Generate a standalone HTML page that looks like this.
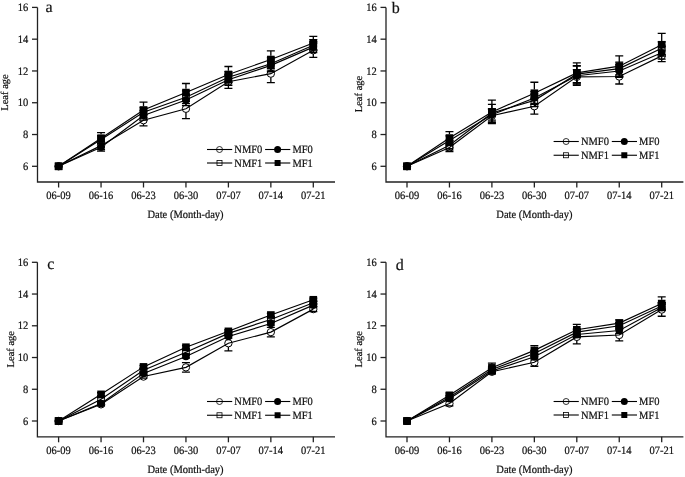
<!DOCTYPE html>
<html><head><meta charset="utf-8"><title>Leaf age</title>
<style>
html,body{margin:0;padding:0;background:#fff;}
body{width:685px;height:477px;overflow:hidden;}
svg{display:block;will-change:transform;font-family:"Liberation Serif", serif;fill:#111;}
text{fill:#111;stroke:#111;stroke-width:0.2px;text-rendering:geometricPrecision;}
</style></head><body>
<svg width="685" height="477" viewBox="0 0 685 477">
<rect width="685" height="477" fill="#fff"/>
<path d="M37.5 7.4V182H335" fill="none" stroke="#222" stroke-width="1.3"/>
<path d="M32 166.3H37.5" stroke="#222" stroke-width="1.3"/>
<text transform="translate(28.3 169.9) scale(1 1.07)" text-anchor="end" font-size="10.5">6</text>
<path d="M32 134.52H37.5" stroke="#222" stroke-width="1.3"/>
<text transform="translate(28.3 138.12) scale(1 1.07)" text-anchor="end" font-size="10.5">8</text>
<path d="M32 102.74H37.5" stroke="#222" stroke-width="1.3"/>
<text transform="translate(28.3 106.34) scale(1 1.07)" text-anchor="end" font-size="10.5">10</text>
<path d="M32 70.96H37.5" stroke="#222" stroke-width="1.3"/>
<text transform="translate(28.3 74.56) scale(1 1.07)" text-anchor="end" font-size="10.5">12</text>
<path d="M32 39.18H37.5" stroke="#222" stroke-width="1.3"/>
<text transform="translate(28.3 42.78) scale(1 1.07)" text-anchor="end" font-size="10.5">14</text>
<path d="M32 7.4H37.5" stroke="#222" stroke-width="1.3"/>
<text transform="translate(28.3 11) scale(1 1.07)" text-anchor="end" font-size="10.5">16</text>
<path d="M58.6 182V187.5" stroke="#222" stroke-width="1.3"/>
<text transform="translate(58.6 199.2) scale(1 1.07)" text-anchor="middle" font-size="10.5">06-09</text>
<path d="M101.05 182V187.5" stroke="#222" stroke-width="1.3"/>
<text transform="translate(101.05 199.2) scale(1 1.07)" text-anchor="middle" font-size="10.5">06-16</text>
<path d="M143.5 182V187.5" stroke="#222" stroke-width="1.3"/>
<text transform="translate(143.5 199.2) scale(1 1.07)" text-anchor="middle" font-size="10.5">06-23</text>
<path d="M185.95 182V187.5" stroke="#222" stroke-width="1.3"/>
<text transform="translate(185.95 199.2) scale(1 1.07)" text-anchor="middle" font-size="10.5">06-30</text>
<path d="M228.4 182V187.5" stroke="#222" stroke-width="1.3"/>
<text transform="translate(228.4 199.2) scale(1 1.07)" text-anchor="middle" font-size="10.5">07-07</text>
<path d="M270.85 182V187.5" stroke="#222" stroke-width="1.3"/>
<text transform="translate(270.85 199.2) scale(1 1.07)" text-anchor="middle" font-size="10.5">07-14</text>
<path d="M313.3 182V187.5" stroke="#222" stroke-width="1.3"/>
<text transform="translate(313.3 199.2) scale(1 1.07)" text-anchor="middle" font-size="10.5">07-21</text>
<text x="45.4" y="12" font-size="16">a</text>
<text transform="translate(8.3 92.5) rotate(-90)" text-anchor="middle" font-size="10.5">Leaf age</text>
<text transform="translate(185.5 218.1) scale(1 1.07)" text-anchor="middle" font-size="10.5">Date (Month-day)</text>
<polyline points="58.6,166.3 101.05,145.64 143.5,120.22 185.95,108.78 228.4,81.77 270.85,73.66 313.3,50.3" fill="none" stroke="#000" stroke-width="1.15"/>
<polyline points="58.6,166.3 101.05,147.23 143.5,115.45 185.95,100.04 228.4,79.7 270.85,65.4 313.3,47.12" fill="none" stroke="#000" stroke-width="1.15"/>
<polyline points="58.6,166.3 101.05,139.6 143.5,112.27 185.95,97.18 228.4,77.32 270.85,63.81 313.3,45.22" fill="none" stroke="#000" stroke-width="1.15"/>
<polyline points="58.6,166.3 101.05,138.17 143.5,110.05 185.95,92.57 228.4,74.46 270.85,59.52 313.3,42.99" fill="none" stroke="#000" stroke-width="1.15"/>
<path d="M101.05 141.67V141.84M101.05 149.44V149.62M97.05 141.67h8M97.05 149.62h8" stroke="#000" stroke-width="1.3" fill="none"/>
<path d="M143.5 114.66V116.42M143.5 124.02V125.78M139.5 114.66h8M139.5 125.78h8" stroke="#000" stroke-width="1.3" fill="none"/>
<path d="M185.95 98.93V104.98M185.95 112.58V118.63M181.95 98.93h8M181.95 118.63h8" stroke="#000" stroke-width="1.3" fill="none"/>
<path d="M228.4 75.09V77.97M228.4 85.57V88.44M224.4 75.09h8M224.4 88.44h8" stroke="#000" stroke-width="1.3" fill="none"/>
<path d="M270.85 64.6V69.86M270.85 77.46V82.72M266.85 64.6h8M266.85 82.72h8" stroke="#000" stroke-width="1.3" fill="none"/>
<path d="M313.3 43.15V46.5M313.3 54.1V57.45M309.3 43.15h8M309.3 57.45h8" stroke="#000" stroke-width="1.3" fill="none"/>
<path d="M101.05 143.26V143.43M101.05 151.03V151.2M97.05 143.26h8M97.05 151.2h8" stroke="#000" stroke-width="1.3" fill="none"/>
<path d="M143.5 110.69V111.65M143.5 119.25V120.22M139.5 110.69h8M139.5 120.22h8" stroke="#000" stroke-width="1.3" fill="none"/>
<path d="M185.95 94.48V96.24M185.95 103.84V105.6M181.95 94.48h8M181.95 105.6h8" stroke="#000" stroke-width="1.3" fill="none"/>
<path d="M228.4 74.14V75.9M228.4 83.5V85.26M224.4 74.14h8M224.4 85.26h8" stroke="#000" stroke-width="1.3" fill="none"/>
<path d="M270.85 59.04V61.6M270.85 69.2V71.75M266.85 59.04h8M266.85 71.75h8" stroke="#000" stroke-width="1.3" fill="none"/>
<path d="M313.3 41.56V43.33M313.3 50.92V52.69M309.3 41.56h8M309.3 52.69h8" stroke="#000" stroke-width="1.3" fill="none"/>
<path d="M101.05 135.63V135.8M101.05 143.4V143.58M97.05 135.63h8M97.05 143.58h8" stroke="#000" stroke-width="1.3" fill="none"/>
<path d="M143.5 107.51V108.47M143.5 116.07V117.04M139.5 107.51h8M139.5 117.04h8" stroke="#000" stroke-width="1.3" fill="none"/>
<path d="M185.95 90.82V93.38M185.95 100.98V103.53M181.95 90.82h8M181.95 103.53h8" stroke="#000" stroke-width="1.3" fill="none"/>
<path d="M228.4 71.75V73.52M228.4 81.12V82.88M224.4 71.75h8M224.4 82.88h8" stroke="#000" stroke-width="1.3" fill="none"/>
<path d="M270.85 57.45V60.01M270.85 67.61V70.17M266.85 57.45h8M266.85 70.17h8" stroke="#000" stroke-width="1.3" fill="none"/>
<path d="M313.3 39.66V41.42M313.3 49.02V50.78M309.3 39.66h8M309.3 50.78h8" stroke="#000" stroke-width="1.3" fill="none"/>
<path d="M101.05 132.61V134.37M101.05 141.97V143.74M97.05 132.61h8M97.05 143.74h8" stroke="#000" stroke-width="1.3" fill="none"/>
<path d="M143.5 102.1V106.25M143.5 113.85V117.99M139.5 102.1h8M139.5 117.99h8" stroke="#000" stroke-width="1.3" fill="none"/>
<path d="M185.95 83.51V88.77M185.95 96.37V101.63M181.95 83.51h8M181.95 101.63h8" stroke="#000" stroke-width="1.3" fill="none"/>
<path d="M228.4 66.51V70.66M228.4 78.26V82.4M224.4 66.51h8M224.4 82.4h8" stroke="#000" stroke-width="1.3" fill="none"/>
<path d="M270.85 50.78V55.72M270.85 63.32V68.26M266.85 50.78h8M266.85 68.26h8" stroke="#000" stroke-width="1.3" fill="none"/>
<path d="M313.3 36.32V39.19M313.3 46.79V49.67M309.3 36.32h8M309.3 49.67h8" stroke="#000" stroke-width="1.3" fill="none"/>
<circle cx="58.6" cy="166.3" r="3.68" fill="none" stroke="#000" stroke-width="1"/>
<circle cx="101.05" cy="145.64" r="3.68" fill="none" stroke="#000" stroke-width="1"/>
<circle cx="143.5" cy="120.22" r="3.68" fill="none" stroke="#000" stroke-width="1"/>
<circle cx="185.95" cy="108.78" r="3.68" fill="none" stroke="#000" stroke-width="1"/>
<circle cx="228.4" cy="81.77" r="3.68" fill="none" stroke="#000" stroke-width="1"/>
<circle cx="270.85" cy="73.66" r="3.68" fill="none" stroke="#000" stroke-width="1"/>
<circle cx="313.3" cy="50.3" r="3.68" fill="none" stroke="#000" stroke-width="1"/>
<circle cx="58.6" cy="166.3" r="3.8" fill="#000"/>
<circle cx="101.05" cy="147.23" r="3.8" fill="#000"/>
<circle cx="143.5" cy="115.45" r="3.8" fill="#000"/>
<circle cx="185.95" cy="100.04" r="3.8" fill="#000"/>
<circle cx="228.4" cy="79.7" r="3.8" fill="#000"/>
<circle cx="270.85" cy="65.4" r="3.8" fill="#000"/>
<circle cx="313.3" cy="47.12" r="3.8" fill="#000"/>
<rect x="55.3" y="163" width="6.6" height="6.6" fill="none" stroke="#000" stroke-width="1"/>
<rect x="97.75" y="136.3" width="6.6" height="6.6" fill="none" stroke="#000" stroke-width="1"/>
<rect x="140.2" y="108.97" width="6.6" height="6.6" fill="none" stroke="#000" stroke-width="1"/>
<rect x="182.65" y="93.88" width="6.6" height="6.6" fill="none" stroke="#000" stroke-width="1"/>
<rect x="225.1" y="74.02" width="6.6" height="6.6" fill="none" stroke="#000" stroke-width="1"/>
<rect x="267.55" y="60.51" width="6.6" height="6.6" fill="none" stroke="#000" stroke-width="1"/>
<rect x="310" y="41.92" width="6.6" height="6.6" fill="none" stroke="#000" stroke-width="1"/>
<rect x="54.8" y="162.5" width="7.6" height="7.6" fill="#000"/>
<rect x="97.25" y="134.37" width="7.6" height="7.6" fill="#000"/>
<rect x="139.7" y="106.25" width="7.6" height="7.6" fill="#000"/>
<rect x="182.15" y="88.77" width="7.6" height="7.6" fill="#000"/>
<rect x="224.6" y="70.66" width="7.6" height="7.6" fill="#000"/>
<rect x="267.05" y="55.72" width="7.6" height="7.6" fill="#000"/>
<rect x="309.5" y="39.19" width="7.6" height="7.6" fill="#000"/>
<path d="M207 149.5H232.2" stroke="#000" stroke-width="1.1"/>
<circle cx="219.5" cy="149.5" r="3.0" fill="none" stroke="#000" stroke-width="0.8"/>
<text transform="translate(234.3 153.4) scale(1 1.07)" font-size="10.5">NMF0</text>
<path d="M265.1 149.5H290.3" stroke="#000" stroke-width="1.1"/>
<circle cx="277.6" cy="149.5" r="3.5" fill="#000"/>
<text transform="translate(292.4 153.4) scale(1 1.07)" font-size="10.5">MF0</text>
<path d="M207 163H232.2" stroke="#000" stroke-width="1.1"/>
<rect x="217" y="160.5" width="5" height="5" fill="none" stroke="#000" stroke-width="0.8"/>
<text transform="translate(234.3 166.9) scale(1 1.07)" font-size="10.5">NMF1</text>
<path d="M265.1 163H290.3" stroke="#000" stroke-width="1.1"/>
<rect x="274.6" y="160" width="6" height="6" fill="#000"/>
<text transform="translate(292.4 166.9) scale(1 1.07)" font-size="10.5">MF1</text>
<path d="M386 7.4V182H683.4" fill="none" stroke="#222" stroke-width="1.3"/>
<path d="M380.5 166.3H386" stroke="#222" stroke-width="1.3"/>
<text transform="translate(376.8 169.9) scale(1 1.07)" text-anchor="end" font-size="10.5">6</text>
<path d="M380.5 134.52H386" stroke="#222" stroke-width="1.3"/>
<text transform="translate(376.8 138.12) scale(1 1.07)" text-anchor="end" font-size="10.5">8</text>
<path d="M380.5 102.74H386" stroke="#222" stroke-width="1.3"/>
<text transform="translate(376.8 106.34) scale(1 1.07)" text-anchor="end" font-size="10.5">10</text>
<path d="M380.5 70.96H386" stroke="#222" stroke-width="1.3"/>
<text transform="translate(376.8 74.56) scale(1 1.07)" text-anchor="end" font-size="10.5">12</text>
<path d="M380.5 39.18H386" stroke="#222" stroke-width="1.3"/>
<text transform="translate(376.8 42.78) scale(1 1.07)" text-anchor="end" font-size="10.5">14</text>
<path d="M380.5 7.4H386" stroke="#222" stroke-width="1.3"/>
<text transform="translate(376.8 11) scale(1 1.07)" text-anchor="end" font-size="10.5">16</text>
<path d="M407 182V187.5" stroke="#222" stroke-width="1.3"/>
<text transform="translate(407 199.2) scale(1 1.07)" text-anchor="middle" font-size="10.5">06-09</text>
<path d="M449.45 182V187.5" stroke="#222" stroke-width="1.3"/>
<text transform="translate(449.45 199.2) scale(1 1.07)" text-anchor="middle" font-size="10.5">06-16</text>
<path d="M491.9 182V187.5" stroke="#222" stroke-width="1.3"/>
<text transform="translate(491.9 199.2) scale(1 1.07)" text-anchor="middle" font-size="10.5">06-23</text>
<path d="M534.35 182V187.5" stroke="#222" stroke-width="1.3"/>
<text transform="translate(534.35 199.2) scale(1 1.07)" text-anchor="middle" font-size="10.5">06-30</text>
<path d="M576.8 182V187.5" stroke="#222" stroke-width="1.3"/>
<text transform="translate(576.8 199.2) scale(1 1.07)" text-anchor="middle" font-size="10.5">07-07</text>
<path d="M619.25 182V187.5" stroke="#222" stroke-width="1.3"/>
<text transform="translate(619.25 199.2) scale(1 1.07)" text-anchor="middle" font-size="10.5">07-14</text>
<path d="M661.7 182V187.5" stroke="#222" stroke-width="1.3"/>
<text transform="translate(661.7 199.2) scale(1 1.07)" text-anchor="middle" font-size="10.5">07-21</text>
<text x="391.8" y="12.5" font-size="16">b</text>
<text transform="translate(362.1 94) rotate(-90)" text-anchor="middle" font-size="10.5">Leaf age</text>
<text transform="translate(534.4 218.3) scale(1 1.07)" text-anchor="middle" font-size="10.5">Date (Month-day)</text>
<polyline points="407,166.3 449.45,147.55 491.9,115.77 534.35,106.24 576.8,76.84 619.25,76.52 661.7,55.86" fill="none" stroke="#000" stroke-width="1.15"/>
<polyline points="407,166.3 449.45,140.56 491.9,114.66 534.35,97.97 576.8,75.73 619.25,70.96 661.7,52.69" fill="none" stroke="#000" stroke-width="1.15"/>
<polyline points="407,166.3 449.45,145.17 491.9,113.07 534.35,100.36 576.8,74.14 619.25,68.58 661.7,48.24" fill="none" stroke="#000" stroke-width="1.15"/>
<polyline points="407,166.3 449.45,138.02 491.9,111.96 534.35,93.21 576.8,72.87 619.25,66.19 661.7,44.74" fill="none" stroke="#000" stroke-width="1.15"/>
<path d="M449.45 143.58V143.75M449.45 151.35V151.52M445.45 143.58h8M445.45 151.52h8" stroke="#000" stroke-width="1.3" fill="none"/>
<path d="M491.9 108.94V111.97M491.9 119.57V122.6M487.9 108.94h8M487.9 122.6h8" stroke="#000" stroke-width="1.3" fill="none"/>
<path d="M534.35 98.29V102.44M534.35 110.04V114.18M530.35 98.29h8M530.35 114.18h8" stroke="#000" stroke-width="1.3" fill="none"/>
<path d="M576.8 69.69V73.04M576.8 80.64V83.99M572.8 69.69h8M572.8 83.99h8" stroke="#000" stroke-width="1.3" fill="none"/>
<path d="M619.25 69.05V72.72M619.25 80.32V83.99M615.25 69.05h8M615.25 83.99h8" stroke="#000" stroke-width="1.3" fill="none"/>
<path d="M661.7 50.14V52.06M661.7 59.66V61.58M657.7 50.14h8M657.7 61.58h8" stroke="#000" stroke-width="1.3" fill="none"/>
<path d="M449.45 135.79V136.76M449.45 144.36V145.33M445.45 135.79h8M445.45 145.33h8" stroke="#000" stroke-width="1.3" fill="none"/>
<path d="M491.9 109.1V110.86M491.9 118.46V120.22M487.9 109.1h8M487.9 120.22h8" stroke="#000" stroke-width="1.3" fill="none"/>
<path d="M534.35 91.62V94.17M534.35 101.77V104.33M530.35 91.62h8M530.35 104.33h8" stroke="#000" stroke-width="1.3" fill="none"/>
<path d="M576.8 66.19V71.93M576.8 79.53V85.26M572.8 66.19h8M572.8 85.26h8" stroke="#000" stroke-width="1.3" fill="none"/>
<path d="M619.25 64.6V67.16M619.25 74.76V77.32M615.25 64.6h8M615.25 77.32h8" stroke="#000" stroke-width="1.3" fill="none"/>
<path d="M661.7 46.33V48.89M661.7 56.49V59.04M657.7 46.33h8M657.7 59.04h8" stroke="#000" stroke-width="1.3" fill="none"/>
<path d="M449.45 140.4V141.37M449.45 148.97V149.93M445.45 140.4h8M445.45 149.93h8" stroke="#000" stroke-width="1.3" fill="none"/>
<path d="M491.9 104.33V109.27M491.9 116.87V121.81M487.9 104.33h8M487.9 121.81h8" stroke="#000" stroke-width="1.3" fill="none"/>
<path d="M534.35 94V96.56M534.35 104.16V106.71M530.35 94h8M530.35 106.71h8" stroke="#000" stroke-width="1.3" fill="none"/>
<path d="M576.8 65.72V70.34M576.8 77.94V82.56M572.8 65.72h8M572.8 82.56h8" stroke="#000" stroke-width="1.3" fill="none"/>
<path d="M619.25 62.22V64.78M619.25 72.38V74.93M615.25 62.22h8M615.25 74.93h8" stroke="#000" stroke-width="1.3" fill="none"/>
<path d="M661.7 41.88V44.44M661.7 52.04V54.59M657.7 41.88h8M657.7 54.59h8" stroke="#000" stroke-width="1.3" fill="none"/>
<path d="M449.45 131.66V134.22M449.45 141.82V144.37M445.45 131.66h8M445.45 144.37h8" stroke="#000" stroke-width="1.3" fill="none"/>
<path d="M491.9 100.2V108.16M491.9 115.76V123.71M487.9 100.2h8M487.9 123.71h8" stroke="#000" stroke-width="1.3" fill="none"/>
<path d="M534.35 82.24V89.41M534.35 97.01V104.17M530.35 82.24h8M530.35 104.17h8" stroke="#000" stroke-width="1.3" fill="none"/>
<path d="M576.8 62.86V69.07M576.8 76.67V82.88M572.8 62.86h8M572.8 82.88h8" stroke="#000" stroke-width="1.3" fill="none"/>
<path d="M619.25 55.86V62.39M619.25 69.99V76.52M615.25 55.86h8M615.25 76.52h8" stroke="#000" stroke-width="1.3" fill="none"/>
<path d="M661.7 33.3V40.94M661.7 48.54V56.18M657.7 33.3h8M657.7 56.18h8" stroke="#000" stroke-width="1.3" fill="none"/>
<circle cx="407" cy="166.3" r="3.68" fill="none" stroke="#000" stroke-width="1"/>
<circle cx="449.45" cy="147.55" r="3.68" fill="none" stroke="#000" stroke-width="1"/>
<circle cx="491.9" cy="115.77" r="3.68" fill="none" stroke="#000" stroke-width="1"/>
<circle cx="534.35" cy="106.24" r="3.68" fill="none" stroke="#000" stroke-width="1"/>
<circle cx="576.8" cy="76.84" r="3.68" fill="none" stroke="#000" stroke-width="1"/>
<circle cx="619.25" cy="76.52" r="3.68" fill="none" stroke="#000" stroke-width="1"/>
<circle cx="661.7" cy="55.86" r="3.68" fill="none" stroke="#000" stroke-width="1"/>
<circle cx="407" cy="166.3" r="3.8" fill="#000"/>
<circle cx="449.45" cy="140.56" r="3.8" fill="#000"/>
<circle cx="491.9" cy="114.66" r="3.8" fill="#000"/>
<circle cx="534.35" cy="97.97" r="3.8" fill="#000"/>
<circle cx="576.8" cy="75.73" r="3.8" fill="#000"/>
<circle cx="619.25" cy="70.96" r="3.8" fill="#000"/>
<circle cx="661.7" cy="52.69" r="3.8" fill="#000"/>
<rect x="403.7" y="163" width="6.6" height="6.6" fill="none" stroke="#000" stroke-width="1"/>
<rect x="446.15" y="141.87" width="6.6" height="6.6" fill="none" stroke="#000" stroke-width="1"/>
<rect x="488.6" y="109.77" width="6.6" height="6.6" fill="none" stroke="#000" stroke-width="1"/>
<rect x="531.05" y="97.06" width="6.6" height="6.6" fill="none" stroke="#000" stroke-width="1"/>
<rect x="573.5" y="70.84" width="6.6" height="6.6" fill="none" stroke="#000" stroke-width="1"/>
<rect x="615.95" y="65.28" width="6.6" height="6.6" fill="none" stroke="#000" stroke-width="1"/>
<rect x="658.4" y="44.94" width="6.6" height="6.6" fill="none" stroke="#000" stroke-width="1"/>
<rect x="403.2" y="162.5" width="7.6" height="7.6" fill="#000"/>
<rect x="445.65" y="134.22" width="7.6" height="7.6" fill="#000"/>
<rect x="488.1" y="108.16" width="7.6" height="7.6" fill="#000"/>
<rect x="530.55" y="89.41" width="7.6" height="7.6" fill="#000"/>
<rect x="573" y="69.07" width="7.6" height="7.6" fill="#000"/>
<rect x="615.45" y="62.39" width="7.6" height="7.6" fill="#000"/>
<rect x="657.9" y="40.94" width="7.6" height="7.6" fill="#000"/>
<path d="M553.6 141.5H578.8" stroke="#000" stroke-width="1.1"/>
<circle cx="566.1" cy="141.5" r="3.0" fill="none" stroke="#000" stroke-width="0.8"/>
<text transform="translate(580.9 145.4) scale(1 1.07)" font-size="10.5">NMF0</text>
<path d="M611.8 141.5H637" stroke="#000" stroke-width="1.1"/>
<circle cx="624.3" cy="141.5" r="3.5" fill="#000"/>
<text transform="translate(639.1 145.4) scale(1 1.07)" font-size="10.5">MF0</text>
<path d="M553.6 155.25H578.8" stroke="#000" stroke-width="1.1"/>
<rect x="563.6" y="152.75" width="5" height="5" fill="none" stroke="#000" stroke-width="0.8"/>
<text transform="translate(580.9 159.15) scale(1 1.07)" font-size="10.5">NMF1</text>
<path d="M611.8 155.25H637" stroke="#000" stroke-width="1.1"/>
<rect x="621.3" y="152.25" width="6" height="6" fill="#000"/>
<text transform="translate(639.1 159.15) scale(1 1.07)" font-size="10.5">MF1</text>
<path d="M37.4 262.3V436.8H335" fill="none" stroke="#222" stroke-width="1.3"/>
<path d="M31.9 421H37.4" stroke="#222" stroke-width="1.3"/>
<text transform="translate(28.2 424.6) scale(1 1.07)" text-anchor="end" font-size="10.5">6</text>
<path d="M31.9 389.26H37.4" stroke="#222" stroke-width="1.3"/>
<text transform="translate(28.2 392.86) scale(1 1.07)" text-anchor="end" font-size="10.5">8</text>
<path d="M31.9 357.52H37.4" stroke="#222" stroke-width="1.3"/>
<text transform="translate(28.2 361.12) scale(1 1.07)" text-anchor="end" font-size="10.5">10</text>
<path d="M31.9 325.78H37.4" stroke="#222" stroke-width="1.3"/>
<text transform="translate(28.2 329.38) scale(1 1.07)" text-anchor="end" font-size="10.5">12</text>
<path d="M31.9 294.04H37.4" stroke="#222" stroke-width="1.3"/>
<text transform="translate(28.2 297.64) scale(1 1.07)" text-anchor="end" font-size="10.5">14</text>
<path d="M31.9 262.3H37.4" stroke="#222" stroke-width="1.3"/>
<text transform="translate(28.2 265.9) scale(1 1.07)" text-anchor="end" font-size="10.5">16</text>
<path d="M58.6 436.8V442.3" stroke="#222" stroke-width="1.3"/>
<text transform="translate(58.6 454.4) scale(1 1.07)" text-anchor="middle" font-size="10.5">06-09</text>
<path d="M101.05 436.8V442.3" stroke="#222" stroke-width="1.3"/>
<text transform="translate(101.05 454.4) scale(1 1.07)" text-anchor="middle" font-size="10.5">06-16</text>
<path d="M143.5 436.8V442.3" stroke="#222" stroke-width="1.3"/>
<text transform="translate(143.5 454.4) scale(1 1.07)" text-anchor="middle" font-size="10.5">06-23</text>
<path d="M185.95 436.8V442.3" stroke="#222" stroke-width="1.3"/>
<text transform="translate(185.95 454.4) scale(1 1.07)" text-anchor="middle" font-size="10.5">06-30</text>
<path d="M228.4 436.8V442.3" stroke="#222" stroke-width="1.3"/>
<text transform="translate(228.4 454.4) scale(1 1.07)" text-anchor="middle" font-size="10.5">07-07</text>
<path d="M270.85 436.8V442.3" stroke="#222" stroke-width="1.3"/>
<text transform="translate(270.85 454.4) scale(1 1.07)" text-anchor="middle" font-size="10.5">07-14</text>
<path d="M313.3 436.8V442.3" stroke="#222" stroke-width="1.3"/>
<text transform="translate(313.3 454.4) scale(1 1.07)" text-anchor="middle" font-size="10.5">07-21</text>
<text x="47.2" y="268.6" font-size="16">c</text>
<text transform="translate(13.6 349.2) rotate(-90)" text-anchor="middle" font-size="10.5">Leaf age</text>
<text transform="translate(185.5 472.8) scale(1 1.07)" text-anchor="middle" font-size="10.5">Date (Month-day)</text>
<polyline points="58.6,421 101.05,404.34 143.5,376.56 185.95,367.36 228.4,343.24 270.85,332.13 313.3,309.12" fill="none" stroke="#000" stroke-width="1.15"/>
<polyline points="58.6,421 101.05,403.54 143.5,373.39 185.95,356.41 228.4,336.57 270.85,323.56 313.3,305.15" fill="none" stroke="#000" stroke-width="1.15"/>
<polyline points="58.6,421 101.05,399.26 143.5,370.22 185.95,352.28 228.4,333.4 270.85,319.43 313.3,302.77" fill="none" stroke="#000" stroke-width="1.15"/>
<polyline points="58.6,421 101.05,394.34 143.5,366.88 185.95,347.2 228.4,331.33 270.85,314.99 313.3,299.75" fill="none" stroke="#000" stroke-width="1.15"/>
<path d="M97.05 402.75h8M97.05 405.92h8" stroke="#000" stroke-width="1.3" fill="none"/>
<path d="M139.5 374.98h8M139.5 378.15h8" stroke="#000" stroke-width="1.3" fill="none"/>
<path d="M185.95 362.6V363.56M185.95 371.16V372.12M181.95 362.6h8M181.95 372.12h8" stroke="#000" stroke-width="1.3" fill="none"/>
<path d="M228.4 335.62V339.44M228.4 347.04V350.85M224.4 335.62h8M224.4 350.85h8" stroke="#000" stroke-width="1.3" fill="none"/>
<path d="M270.85 327.37V328.33M270.85 335.93V336.89M266.85 327.37h8M266.85 336.89h8" stroke="#000" stroke-width="1.3" fill="none"/>
<path d="M309.3 306.74h8M309.3 311.5h8" stroke="#000" stroke-width="1.3" fill="none"/>
<path d="M97.05 401.96h8M97.05 405.13h8" stroke="#000" stroke-width="1.3" fill="none"/>
<path d="M139.5 371.8h8M139.5 374.98h8" stroke="#000" stroke-width="1.3" fill="none"/>
<path d="M181.95 354.82h8M181.95 358h8" stroke="#000" stroke-width="1.3" fill="none"/>
<path d="M224.4 334.98h8M224.4 338.16h8" stroke="#000" stroke-width="1.3" fill="none"/>
<path d="M266.85 321.97h8M266.85 325.15h8" stroke="#000" stroke-width="1.3" fill="none"/>
<path d="M309.3 303.56h8M309.3 306.74h8" stroke="#000" stroke-width="1.3" fill="none"/>
<path d="M97.05 397.67h8M97.05 400.85h8" stroke="#000" stroke-width="1.3" fill="none"/>
<path d="M139.5 368.63h8M139.5 371.8h8" stroke="#000" stroke-width="1.3" fill="none"/>
<path d="M181.95 350.7h8M181.95 353.87h8" stroke="#000" stroke-width="1.3" fill="none"/>
<path d="M224.4 331.81h8M224.4 334.98h8" stroke="#000" stroke-width="1.3" fill="none"/>
<path d="M266.85 317.85h8M266.85 321.02h8" stroke="#000" stroke-width="1.3" fill="none"/>
<path d="M309.3 301.18h8M309.3 304.36h8" stroke="#000" stroke-width="1.3" fill="none"/>
<path d="M97.05 392.75h8M97.05 395.93h8" stroke="#000" stroke-width="1.3" fill="none"/>
<path d="M139.5 365.3h8M139.5 368.47h8" stroke="#000" stroke-width="1.3" fill="none"/>
<path d="M181.95 345.62h8M181.95 348.79h8" stroke="#000" stroke-width="1.3" fill="none"/>
<path d="M224.4 329.75h8M224.4 332.92h8" stroke="#000" stroke-width="1.3" fill="none"/>
<path d="M266.85 313.4h8M266.85 316.58h8" stroke="#000" stroke-width="1.3" fill="none"/>
<path d="M309.3 298.17h8M309.3 301.34h8" stroke="#000" stroke-width="1.3" fill="none"/>
<circle cx="58.6" cy="421" r="3.68" fill="none" stroke="#000" stroke-width="1"/>
<circle cx="101.05" cy="404.34" r="3.68" fill="none" stroke="#000" stroke-width="1"/>
<circle cx="143.5" cy="376.56" r="3.68" fill="none" stroke="#000" stroke-width="1"/>
<circle cx="185.95" cy="367.36" r="3.68" fill="none" stroke="#000" stroke-width="1"/>
<circle cx="228.4" cy="343.24" r="3.68" fill="none" stroke="#000" stroke-width="1"/>
<circle cx="270.85" cy="332.13" r="3.68" fill="none" stroke="#000" stroke-width="1"/>
<circle cx="313.3" cy="309.12" r="3.68" fill="none" stroke="#000" stroke-width="1"/>
<circle cx="58.6" cy="421" r="3.8" fill="#000"/>
<circle cx="101.05" cy="403.54" r="3.8" fill="#000"/>
<circle cx="143.5" cy="373.39" r="3.8" fill="#000"/>
<circle cx="185.95" cy="356.41" r="3.8" fill="#000"/>
<circle cx="228.4" cy="336.57" r="3.8" fill="#000"/>
<circle cx="270.85" cy="323.56" r="3.8" fill="#000"/>
<circle cx="313.3" cy="305.15" r="3.8" fill="#000"/>
<rect x="55.3" y="417.7" width="6.6" height="6.6" fill="none" stroke="#000" stroke-width="1"/>
<rect x="97.75" y="395.96" width="6.6" height="6.6" fill="none" stroke="#000" stroke-width="1"/>
<rect x="140.2" y="366.92" width="6.6" height="6.6" fill="none" stroke="#000" stroke-width="1"/>
<rect x="182.65" y="348.98" width="6.6" height="6.6" fill="none" stroke="#000" stroke-width="1"/>
<rect x="225.1" y="330.1" width="6.6" height="6.6" fill="none" stroke="#000" stroke-width="1"/>
<rect x="267.55" y="316.13" width="6.6" height="6.6" fill="none" stroke="#000" stroke-width="1"/>
<rect x="310" y="299.47" width="6.6" height="6.6" fill="none" stroke="#000" stroke-width="1"/>
<rect x="54.8" y="417.2" width="7.6" height="7.6" fill="#000"/>
<rect x="97.25" y="390.54" width="7.6" height="7.6" fill="#000"/>
<rect x="139.7" y="363.08" width="7.6" height="7.6" fill="#000"/>
<rect x="182.15" y="343.4" width="7.6" height="7.6" fill="#000"/>
<rect x="224.6" y="327.53" width="7.6" height="7.6" fill="#000"/>
<rect x="267.05" y="311.19" width="7.6" height="7.6" fill="#000"/>
<rect x="309.5" y="295.95" width="7.6" height="7.6" fill="#000"/>
<path d="M207 401.5H232.2" stroke="#000" stroke-width="1.1"/>
<circle cx="219.5" cy="401.5" r="3.0" fill="none" stroke="#000" stroke-width="0.8"/>
<text transform="translate(234.3 405.4) scale(1 1.07)" font-size="10.5">NMF0</text>
<path d="M265.1 401.5H290.3" stroke="#000" stroke-width="1.1"/>
<circle cx="277.6" cy="401.5" r="3.5" fill="#000"/>
<text transform="translate(292.4 405.4) scale(1 1.07)" font-size="10.5">MF0</text>
<path d="M207 415.25H232.2" stroke="#000" stroke-width="1.1"/>
<rect x="217" y="412.75" width="5" height="5" fill="none" stroke="#000" stroke-width="0.8"/>
<text transform="translate(234.3 419.15) scale(1 1.07)" font-size="10.5">NMF1</text>
<path d="M265.1 415.25H290.3" stroke="#000" stroke-width="1.1"/>
<rect x="274.6" y="412.25" width="6" height="6" fill="#000"/>
<text transform="translate(292.4 419.15) scale(1 1.07)" font-size="10.5">MF1</text>
<path d="M386 262.3V436.8H683.4" fill="none" stroke="#222" stroke-width="1.3"/>
<path d="M380.5 421H386" stroke="#222" stroke-width="1.3"/>
<text transform="translate(376.8 424.6) scale(1 1.07)" text-anchor="end" font-size="10.5">6</text>
<path d="M380.5 389.26H386" stroke="#222" stroke-width="1.3"/>
<text transform="translate(376.8 392.86) scale(1 1.07)" text-anchor="end" font-size="10.5">8</text>
<path d="M380.5 357.52H386" stroke="#222" stroke-width="1.3"/>
<text transform="translate(376.8 361.12) scale(1 1.07)" text-anchor="end" font-size="10.5">10</text>
<path d="M380.5 325.78H386" stroke="#222" stroke-width="1.3"/>
<text transform="translate(376.8 329.38) scale(1 1.07)" text-anchor="end" font-size="10.5">12</text>
<path d="M380.5 294.04H386" stroke="#222" stroke-width="1.3"/>
<text transform="translate(376.8 297.64) scale(1 1.07)" text-anchor="end" font-size="10.5">14</text>
<path d="M380.5 262.3H386" stroke="#222" stroke-width="1.3"/>
<text transform="translate(376.8 265.9) scale(1 1.07)" text-anchor="end" font-size="10.5">16</text>
<path d="M407 436.8V442.3" stroke="#222" stroke-width="1.3"/>
<text transform="translate(407 454.4) scale(1 1.07)" text-anchor="middle" font-size="10.5">06-09</text>
<path d="M449.45 436.8V442.3" stroke="#222" stroke-width="1.3"/>
<text transform="translate(449.45 454.4) scale(1 1.07)" text-anchor="middle" font-size="10.5">06-16</text>
<path d="M491.9 436.8V442.3" stroke="#222" stroke-width="1.3"/>
<text transform="translate(491.9 454.4) scale(1 1.07)" text-anchor="middle" font-size="10.5">06-23</text>
<path d="M534.35 436.8V442.3" stroke="#222" stroke-width="1.3"/>
<text transform="translate(534.35 454.4) scale(1 1.07)" text-anchor="middle" font-size="10.5">06-30</text>
<path d="M576.8 436.8V442.3" stroke="#222" stroke-width="1.3"/>
<text transform="translate(576.8 454.4) scale(1 1.07)" text-anchor="middle" font-size="10.5">07-07</text>
<path d="M619.25 436.8V442.3" stroke="#222" stroke-width="1.3"/>
<text transform="translate(619.25 454.4) scale(1 1.07)" text-anchor="middle" font-size="10.5">07-14</text>
<path d="M661.7 436.8V442.3" stroke="#222" stroke-width="1.3"/>
<text transform="translate(661.7 454.4) scale(1 1.07)" text-anchor="middle" font-size="10.5">07-21</text>
<text x="395.8" y="269.5" font-size="16">d</text>
<text transform="translate(361.6 349.2) rotate(-90)" text-anchor="middle" font-size="10.5">Leaf age</text>
<text transform="translate(534.4 472.8) scale(1 1.07)" text-anchor="middle" font-size="10.5">Date (Month-day)</text>
<polyline points="407,421 449.45,403.54 491.9,371.8 534.35,362.28 576.8,336.89 619.25,334.98 661.7,309.59" fill="none" stroke="#000" stroke-width="1.15"/>
<polyline points="407,421 449.45,398.78 491.9,371.01 534.35,356.73 576.8,334.51 619.25,330.54 661.7,307.53" fill="none" stroke="#000" stroke-width="1.15"/>
<polyline points="407,421 449.45,397.19 491.9,369.42 534.35,353.55 576.8,332.13 619.25,325.78 661.7,305.94" fill="none" stroke="#000" stroke-width="1.15"/>
<polyline points="407,421 449.45,395.29 491.9,367.84 534.35,350.38 576.8,329.75 619.25,323.08 661.7,303.56" fill="none" stroke="#000" stroke-width="1.15"/>
<path d="M445.45 401.16h8M445.45 405.92h8" stroke="#000" stroke-width="1.3" fill="none"/>
<path d="M487.9 369.42h8M487.9 374.18h8" stroke="#000" stroke-width="1.3" fill="none"/>
<path d="M534.35 358.31V358.48M534.35 366.08V366.25M530.35 358.31h8M530.35 366.25h8" stroke="#000" stroke-width="1.3" fill="none"/>
<path d="M576.8 329.91V333.09M576.8 340.69V343.87M572.8 329.91h8M572.8 343.87h8" stroke="#000" stroke-width="1.3" fill="none"/>
<path d="M619.25 329.11V331.18M619.25 338.78V340.86M615.25 329.11h8M615.25 340.86h8" stroke="#000" stroke-width="1.3" fill="none"/>
<path d="M661.7 302.93V305.79M661.7 313.39V316.26M657.7 302.93h8M657.7 316.26h8" stroke="#000" stroke-width="1.3" fill="none"/>
<path d="M445.45 397.19h8M445.45 400.37h8" stroke="#000" stroke-width="1.3" fill="none"/>
<path d="M487.9 368.63h8M487.9 373.39h8" stroke="#000" stroke-width="1.3" fill="none"/>
<path d="M530.35 353.55h8M530.35 359.9h8" stroke="#000" stroke-width="1.3" fill="none"/>
<path d="M572.8 331.33h8M572.8 337.68h8" stroke="#000" stroke-width="1.3" fill="none"/>
<path d="M615.25 327.37h8M615.25 333.72h8" stroke="#000" stroke-width="1.3" fill="none"/>
<path d="M657.7 304.36h8M657.7 310.7h8" stroke="#000" stroke-width="1.3" fill="none"/>
<path d="M445.45 395.61h8M445.45 398.78h8" stroke="#000" stroke-width="1.3" fill="none"/>
<path d="M487.9 367.04h8M487.9 371.8h8" stroke="#000" stroke-width="1.3" fill="none"/>
<path d="M530.35 350.38h8M530.35 356.73h8" stroke="#000" stroke-width="1.3" fill="none"/>
<path d="M572.8 328.95h8M572.8 335.3h8" stroke="#000" stroke-width="1.3" fill="none"/>
<path d="M615.25 322.61h8M615.25 328.95h8" stroke="#000" stroke-width="1.3" fill="none"/>
<path d="M657.7 302.77h8M657.7 309.12h8" stroke="#000" stroke-width="1.3" fill="none"/>
<path d="M445.45 392.91h8M445.45 397.67h8" stroke="#000" stroke-width="1.3" fill="none"/>
<path d="M491.9 363.07V364.04M491.9 371.64V372.6M487.9 363.07h8M487.9 372.6h8" stroke="#000" stroke-width="1.3" fill="none"/>
<path d="M534.35 345.62V346.58M534.35 354.18V355.14M530.35 345.62h8M530.35 355.14h8" stroke="#000" stroke-width="1.3" fill="none"/>
<path d="M576.8 324.35V325.95M576.8 333.55V335.14M572.8 324.35h8M572.8 335.14h8" stroke="#000" stroke-width="1.3" fill="none"/>
<path d="M615.25 319.91h8M615.25 326.26h8" stroke="#000" stroke-width="1.3" fill="none"/>
<path d="M661.7 296.9V299.76M661.7 307.36V310.23M657.7 296.9h8M657.7 310.23h8" stroke="#000" stroke-width="1.3" fill="none"/>
<circle cx="407" cy="421" r="3.68" fill="none" stroke="#000" stroke-width="1"/>
<circle cx="449.45" cy="403.54" r="3.68" fill="none" stroke="#000" stroke-width="1"/>
<circle cx="491.9" cy="371.8" r="3.68" fill="none" stroke="#000" stroke-width="1"/>
<circle cx="534.35" cy="362.28" r="3.68" fill="none" stroke="#000" stroke-width="1"/>
<circle cx="576.8" cy="336.89" r="3.68" fill="none" stroke="#000" stroke-width="1"/>
<circle cx="619.25" cy="334.98" r="3.68" fill="none" stroke="#000" stroke-width="1"/>
<circle cx="661.7" cy="309.59" r="3.68" fill="none" stroke="#000" stroke-width="1"/>
<circle cx="407" cy="421" r="3.8" fill="#000"/>
<circle cx="449.45" cy="398.78" r="3.8" fill="#000"/>
<circle cx="491.9" cy="371.01" r="3.8" fill="#000"/>
<circle cx="534.35" cy="356.73" r="3.8" fill="#000"/>
<circle cx="576.8" cy="334.51" r="3.8" fill="#000"/>
<circle cx="619.25" cy="330.54" r="3.8" fill="#000"/>
<circle cx="661.7" cy="307.53" r="3.8" fill="#000"/>
<rect x="403.7" y="417.7" width="6.6" height="6.6" fill="none" stroke="#000" stroke-width="1"/>
<rect x="446.15" y="393.89" width="6.6" height="6.6" fill="none" stroke="#000" stroke-width="1"/>
<rect x="488.6" y="366.12" width="6.6" height="6.6" fill="none" stroke="#000" stroke-width="1"/>
<rect x="531.05" y="350.25" width="6.6" height="6.6" fill="none" stroke="#000" stroke-width="1"/>
<rect x="573.5" y="328.83" width="6.6" height="6.6" fill="none" stroke="#000" stroke-width="1"/>
<rect x="615.95" y="322.48" width="6.6" height="6.6" fill="none" stroke="#000" stroke-width="1"/>
<rect x="658.4" y="302.64" width="6.6" height="6.6" fill="none" stroke="#000" stroke-width="1"/>
<rect x="403.2" y="417.2" width="7.6" height="7.6" fill="#000"/>
<rect x="445.65" y="391.49" width="7.6" height="7.6" fill="#000"/>
<rect x="488.1" y="364.04" width="7.6" height="7.6" fill="#000"/>
<rect x="530.55" y="346.58" width="7.6" height="7.6" fill="#000"/>
<rect x="573" y="325.95" width="7.6" height="7.6" fill="#000"/>
<rect x="615.45" y="319.28" width="7.6" height="7.6" fill="#000"/>
<rect x="657.9" y="299.76" width="7.6" height="7.6" fill="#000"/>
<path d="M553.6 401.5H578.8" stroke="#000" stroke-width="1.1"/>
<circle cx="566.1" cy="401.5" r="3.0" fill="none" stroke="#000" stroke-width="0.8"/>
<text transform="translate(580.9 405.4) scale(1 1.07)" font-size="10.5">NMF0</text>
<path d="M611.8 401.5H637" stroke="#000" stroke-width="1.1"/>
<circle cx="624.3" cy="401.5" r="3.5" fill="#000"/>
<text transform="translate(639.1 405.4) scale(1 1.07)" font-size="10.5">MF0</text>
<path d="M553.6 415H578.8" stroke="#000" stroke-width="1.1"/>
<rect x="563.6" y="412.5" width="5" height="5" fill="none" stroke="#000" stroke-width="0.8"/>
<text transform="translate(580.9 418.9) scale(1 1.07)" font-size="10.5">NMF1</text>
<path d="M611.8 415H637" stroke="#000" stroke-width="1.1"/>
<rect x="621.3" y="412" width="6" height="6" fill="#000"/>
<text transform="translate(639.1 418.9) scale(1 1.07)" font-size="10.5">MF1</text>
</svg>
</body></html>
